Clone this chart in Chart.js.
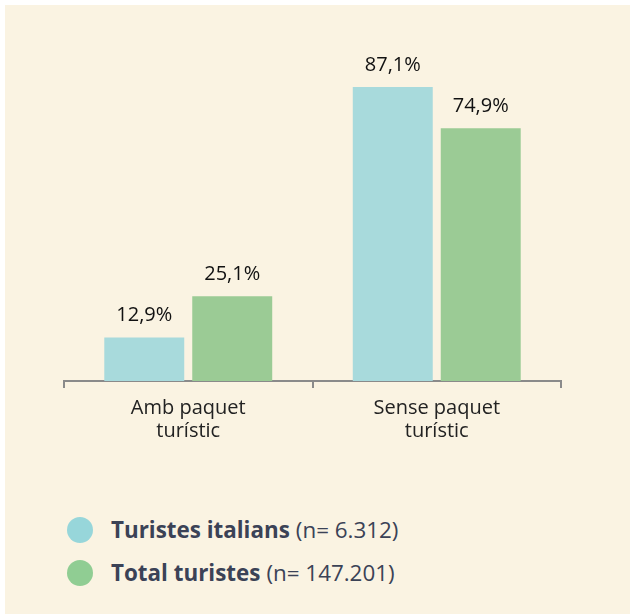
<!DOCTYPE html>
<html>
<head>
<meta charset="utf-8">
<script src="https://cdn.jsdelivr.net/npm/chart.js@4"></script>
<style>
  html, body { margin: 0; padding: 0; background: #fff; }
  #panel {
    position: absolute; left: 5px; top: 5px; width: 625px; height: 609px;
    background: #faf3e2; font-family: "Open Sans", sans-serif;
  }
  #wrap { position: absolute; left: 0; top: 0; width: 625px; height: 460px; }
  #legend { position: absolute; left: 62px; top: 503px; }
  .item { display: flex; align-items: center; height: 43px; font-size: 22.4px; color: #3b4256; }
  .dot { width: 26px; height: 26px; border-radius: 50%; margin-right: 18px; }
  .item b { font-weight: 700; margin-right: 6px; }
</style>
</head>
<body>
<div id="panel">
  <div id="wrap"><canvas id="chart"></canvas></div>
  <div id="legend"></div>
</div>
<script>
// categories and series
const categories = [['Amb paquet', 'turístic'], ['Sense paquet', 'turístic']];
const seriesNames = ['Turistes italians', 'Total turistes'];
const seriesNotes = ['(n= 6.312)', '(n= 147.201)'];
const italians = [12.9, 87.1];
const total = [25.1, 74.9];
const colors = ['#a8dadc', '#9bcb95'];
const legendColors = ['#97d6da', '#90cd93'];

const fmt = v => v.toFixed(1).replace('.', ',') + '%';

// value labels above each bar
const valueLabels = {
  id: 'valueLabels',
  afterDatasetsDraw(chart) {
    const ctx = chart.ctx;
    ctx.save();
    ctx.font = '20px "Open Sans", sans-serif';
    ctx.fillStyle = '#111';
    ctx.textAlign = 'center';
    ctx.textBaseline = 'alphabetic';
    chart.data.datasets.forEach((ds, i) => {
      chart.getDatasetMeta(i).data.forEach((bar, j) => {
        ctx.fillText(fmt(ds.data[j]), bar.x, bar.y - 16);
      });
    });
    ctx.restore();
  }
};

new Chart(document.getElementById('chart'), {
  type: 'bar',
  data: {
    labels: categories,
    datasets: [
      { label: seriesNames[0], data: italians, backgroundColor: colors[0] },
      { label: seriesNames[1], data: total, backgroundColor: colors[1] }
    ]
  },
  options: {
    responsive: true,
    maintainAspectRatio: false,
    animation: false,
    layout: { padding: { left: 59, right: 69, top: 38.6, bottom: 13 } },
    datasets: { bar: { categoryPercentage: 0.708, barPercentage: 0.909 } },
    plugins: { legend: { display: false }, tooltip: { enabled: false } },
    scales: {
      x: {
        grid: { drawOnChartArea: false, drawTicks: true, tickLength: 7, color: '#8a8a8a', lineWidth: 2 },
        border: { display: true, color: '#8a8a8a', width: 2 },
        ticks: {
          color: '#222',
          padding: 9,
          font: { family: '"Open Sans", sans-serif', size: 20, lineHeight: 1.15 }
        }
      },
      y: { display: false, min: 0, max: 100 }
    }
  },
  plugins: [valueLabels]
});

// legend built from the series arrays
const legend = document.getElementById('legend');
seriesNames.forEach((name, i) => {
  const row = document.createElement('div');
  row.className = 'item';
  row.innerHTML = '<span class="dot" style="background:' + legendColors[i] + '"></span><b>' +
    name + '</b><span>' + seriesNotes[i] + '</span>';
  legend.appendChild(row);
});
</script>
</body>
</html>
